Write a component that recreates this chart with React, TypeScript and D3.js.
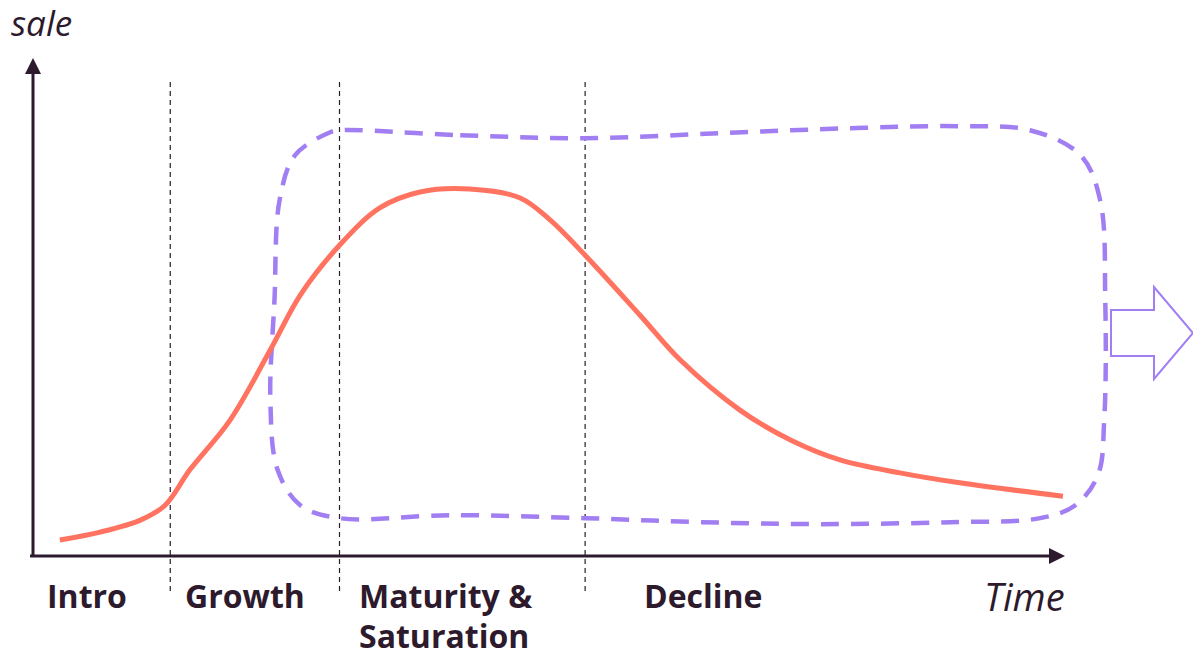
import React from "react";
import * as d3 from "d3";

const salesCurve: [number, number][] = [
  [2.6, 3.2], [6.5, 4.8], [10.4, 7.2], [12.8, 10.2], [15.2, 17.3], [19.1, 27.3],
  [23.0, 41.4], [25.9, 52.4], [29.7, 62.4], [33.6, 69.9], [37.5, 73.1], [42.3, 73.7],
  [47.2, 71.9], [50.1, 67.5], [53.5, 60.4], [58.8, 48.4], [62.7, 39.4], [68.5, 29.3],
  [73.4, 23.3], [78.2, 19.3], [84.0, 16.7], [89.8, 14.7], [99.8, 12.0],
];

const envelope: [number, number][] = [
  [29.7, 85.5], [41.4, 84.5], [53.5, 83.9], [66.6, 84.9], [79.2, 85.9], [89.8, 86.3],
  [96.6, 85.5], [101.5, 80.5], [103.4, 71.5], [103.9, 51.4], [103.8, 27.3], [103.2, 16.3],
  [101.0, 10.2], [97.6, 7.6], [88.9, 6.8], [76.3, 6.4], [64.6, 6.8], [53.5, 7.6],
  [40.4, 8.2], [29.7, 7.6], [25.9, 10.2], [23.7, 17.3], [23.0, 31.3], [23.4, 51.4],
  [23.9, 71.5], [25.4, 80.5], [28.8, 85.1],
];

const boundaries = [13.3, 29.7, 53.5];
const stageLabels = [
  { lines: ["Intro"], x: 47 },
  { lines: ["Growth"], x: 185 },
  { lines: ["Maturity &", "Saturation"], x: 359 },
  { lines: ["Decline"], x: 644 },
];

const W = 1193;
const H = 658;
const dark = "#2D1A2C";
const coral = "#FF7360";
const purple = "#A17EF2";

export default function App() {
  const x = d3.scaleLinear().domain([0, 100]).range([33, 1065]);
  const y = d3.scaleLinear().domain([0, 100]).range([556, 58]);

  const line = d3
    .line<[number, number]>()
    .x((d) => x(d[0]))
    .y((d) => y(d[1]))
    .curve(d3.curveCatmullRom.alpha(0.5));
  const closed = d3
    .line<[number, number]>()
    .x((d) => x(d[0]))
    .y((d) => y(d[1]))
    .curve(d3.curveCatmullRomClosed.alpha(0.5));

  const font = "'Open Sans', sans-serif";

  return (
    <svg
      width={W}
      height={H}
      style={{ position: "absolute", left: 0, top: 0 }}
      fontFamily={font}
    >
      <rect width={W} height={H} fill="#fff" />
      {boundaries.map((b, i) => (
        <line
          key={i}
          x1={x(b)}
          x2={x(b)}
          y1={82}
          y2={592}
          stroke={dark}
          strokeWidth={1.2}
          strokeDasharray="5,4"
        />
      ))}
      <line x1={x(0)} x2={x(0)} y1={y(0)} y2={y(100) + 14} stroke={dark} strokeWidth={3} />
      <path
        d={`M${x(0)},${y(100)} L${x(0) - 8},${y(100) + 16} L${x(0) + 8},${y(100) + 16} Z`}
        fill={dark}
      />
      <line x1={30} x2={x(100) - 14} y1={y(0)} y2={y(0)} stroke={dark} strokeWidth={3} />
      <path
        d={`M${x(100)},${y(0)} L${x(100) - 16},${y(0) - 8} L${x(100) - 16},${y(0) + 8} Z`}
        fill={dark}
      />
      <path
        d={closed(envelope) || ""}
        fill="none"
        stroke={purple}
        strokeWidth={4.5}
        strokeDasharray="18,12"
      />
      <path
        d={line(salesCurve) || ""}
        fill="none"
        stroke={coral}
        strokeWidth={5}
      />
      <path
        d="M1111,310 L1154,310 L1154,287 L1193,333 L1154,379 L1154,356 L1111,356 Z"
        fill="#fff"
        stroke={purple}
        strokeWidth={2}
      />
      <text x={11} y={36} fontSize={35} fontStyle="italic" fill={dark}>
        sale
      </text>
      <text x={984} y={611} fontSize={38} fontStyle="italic" fill={dark}>
        Time
      </text>
      {stageLabels.map((s, i) => (
        <text key={i} x={s.x} y={608} fontSize={32} fontWeight="bold" fill={dark}>
          {s.lines.map((l, j) => (
            <tspan key={j} x={s.x} dy={j === 0 ? 0 : 40}>
              {l}
            </tspan>
          ))}
        </text>
      ))}
    </svg>
  );
}
